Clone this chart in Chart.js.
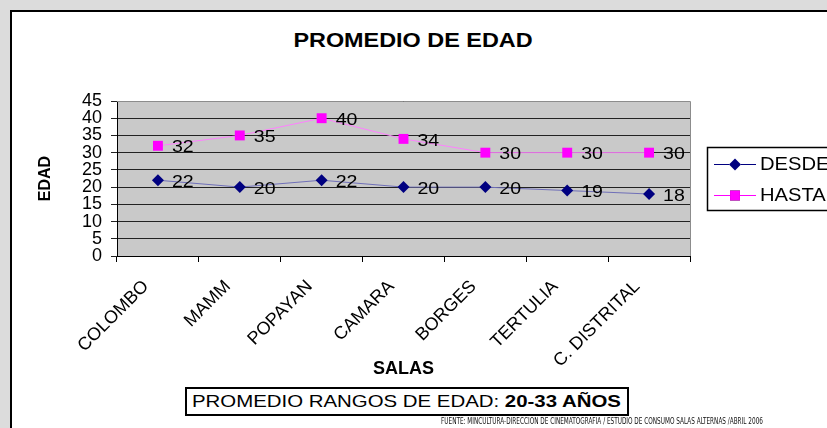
<!DOCTYPE html>
<html>
<head>
<meta charset="utf-8">
<script src="https://cdn.jsdelivr.net/npm/chart.js@4/dist/chart.umd.min.js"></script>
<style>
    html, body { margin: 0; padding: 0; }
    body { width: 827px; height: 428px; background: #dcdcdc; position: relative; overflow: hidden; font-family: "Liberation Sans", Arial, sans-serif; }
    #panel { position: absolute; left: 10px; top: 10px; width: 830px; height: 430px; background: #fff; border-left: 2px solid #000; border-top: 2px solid #000; }
    #chartBox { position: absolute; left: 0; top: 0; width: 827px; height: 428px; }
    #chartTitle { position: absolute; left: 413px; top: 29px; font-size: 19.5px; font-weight: bold; white-space: nowrap;
                  transform: translateX(-50%) scaleX(1.2); }
    #rangeBox { position: absolute; left: 185px; top: 387px; width: 440px; height: 25px; border: 2px solid #000; background: #fff; overflow: hidden; }
    #rangeBox span { position: absolute; left: 5px; top: 3px; font-size: 17px; white-space: nowrap; transform-origin: left top; transform: scaleX(1.2); }
    #source { position: absolute; left: 441px; top: 416px; font-family: "DejaVu Sans Condensed", "DejaVu Sans", sans-serif;
              font-stretch: condensed; font-size: 9px; color: #111; white-space: nowrap; transform-origin: left top; transform: scaleX(0.71); }
</style>
</head>
<body>
<div id="panel"></div>
<div id="chartTitle">PROMEDIO DE EDAD</div>
<div id="chartBox"><canvas id="edadChart" width="827" height="428"></canvas></div>
<div id="rangeBox"><span>PROMEDIO RANGOS DE EDAD: <b>20-33 AÑOS</b></span></div>
<div id="source">FUENTE: MINCULTURA-DIRECCION DE CINEMATOGRAFIA / ESTUDIO DE CONSUMO SALAS ALTERNAS /ABRIL 2006</div>

<script>
// ---- data ----
const salas = ["COLOMBO", "MAMM", "POPAYAN", "CAMARA", "BORGES", "TERTULIA", "C. DISTRITAL"];
const desde = [22, 20, 22, 20, 20, 19, 18];
const hasta = [32, 35, 40, 34, 30, 30, 30];
const seriesNames = ["DESDE", "HASTA"];

const FONT = "'Liberation Sans', Arial, sans-serif";

// grey plot area like the old spreadsheet chart
const plotBackground = {
    id: 'plotBackground',
    beforeDraw(chart) {
        const a = chart.chartArea, ctx = chart.ctx;
        ctx.save();
        ctx.fillStyle = '#c9c9c9';
        ctx.fillRect(a.left, a.top, a.right - a.left, a.bottom - a.top);
        ctx.restore();
    },
    afterDraw(chart) {
        const a = chart.chartArea, ctx = chart.ctx;
        ctx.save();
        ctx.strokeStyle = '#8c8c8c';
        ctx.lineWidth = 1;
        ctx.beginPath();
        ctx.moveTo(a.left, a.top + 0.5);
        ctx.lineTo(a.right + 0.5, a.top + 0.5);
        ctx.lineTo(a.right + 0.5, a.bottom);
        ctx.stroke();
        ctx.restore();
    }
};

// draw text a bit wider, the original picture is stretched sideways
function wideText(ctx, txt, x, y, sx) {
    ctx.save();
    ctx.translate(x, y);
    ctx.scale(sx, 1);
    ctx.fillText(txt, 0, 0);
    ctx.restore();
}

// value labels right of each point
const pointLabels = {
    id: 'pointLabels',
    afterDatasetsDraw(chart) {
        const ctx = chart.ctx;
        ctx.save();
        ctx.font = '17px ' + FONT;
        ctx.fillStyle = '#000';
        ctx.textAlign = 'left';
        ctx.textBaseline = 'middle';
        chart.data.datasets.forEach((ds, i) => {
            chart.getDatasetMeta(i).data.forEach((pt, j) => {
                wideText(ctx, String(ds.data[j]), pt.x + 14, pt.y + 2, 1.15);
            });
        });
        ctx.restore();
    }
};

// legend box on the right
const sideLegend = {
    id: 'sideLegend',
    afterDraw(chart) {
        const ctx = chart.ctx;
        const x = 707, y = 147, w = 160, h = 63;
        ctx.save();
        ctx.fillStyle = '#fff';
        ctx.fillRect(x, y, w, h);
        ctx.strokeStyle = '#000';
        ctx.lineWidth = 1.5;
        ctx.strokeRect(x + 0.5, y + 0.5, w, h);
        chart.data.datasets.forEach((ds, i) => {
            const cy = y + 17 + i * 31;
            ctx.strokeStyle = ds.pointBackgroundColor;
            ctx.lineWidth = 1;
            ctx.beginPath();
            ctx.moveTo(714, cy + 0.5);
            ctx.lineTo(756, cy + 0.5);
            ctx.stroke();
            Chart.helpers.drawPoint(ctx, {
                pointStyle: ds.pointStyle, radius: ds.pointRadius, rotation: 0, borderWidth: 0
            }, 735, cy + 0.5);
            ctx.fillStyle = ds.pointBackgroundColor;
            ctx.fill();
            ctx.fillStyle = '#000';
            ctx.font = '18px ' + FONT;
            ctx.textBaseline = 'middle';
            wideText(ctx, seriesNames[i], 760, cy + 1, 1.12);
        });
        ctx.restore();
    }
};

new Chart(document.getElementById('edadChart'), {
    type: 'line',
    data: {
        labels: salas,
        datasets: [{
            label: seriesNames[0],
            data: desde,
            borderColor: '#6f6fb8',
            borderWidth: 1,
            pointStyle: 'rectRot',
            pointRadius: 6,
            pointBackgroundColor: '#000080',
            pointBorderColor: '#000080',
            pointBorderWidth: 0,
            tension: 0
        }, {
            label: seriesNames[1],
            data: hasta,
            borderColor: '#ff80ff',
            borderWidth: 1,
            pointStyle: 'rect',
            pointRadius: 7,
            pointBackgroundColor: '#ff00ff',
            pointBorderColor: '#ff00ff',
            pointBorderWidth: 0,
            tension: 0
        }]
    },
    options: {
        responsive: false,
        animation: false,
        layout: { padding: { left: 36, right: 137, top: 101, bottom: 45 } },
        plugins: {
            legend: { display: false },
            tooltip: { enabled: false },
            title: { display: false }
        },
        scales: {
            x: {
                offset: true,
                grid: { offset: true, drawOnChartArea: false, color: '#000', tickLength: 6 },
                border: { color: '#000' },
                ticks: {
                    color: '#000', font: { family: FONT, size: 18 },
                    maxRotation: 45, minRotation: 45, autoSkip: false,
                    padding: 14, labelOffset: -12
                },
                title: {
                    display: true, text: 'SALAS', color: '#000',
                    font: { family: FONT, size: 18, weight: 'bold' }, padding: { top: 0, bottom: 3 }
                },
                afterFit(scale) { scale.height = 127; }
            },
            y: {
                min: 0, max: 45,
                grid: { color: '#222', tickLength: 6 },
                border: { color: '#000' },
                ticks: {
                    stepSize: 5, autoSkip: false, color: '#000', padding: 9,
                    font: { family: FONT, size: 18 }
                },
                title: {
                    display: true, text: 'EDAD', color: '#000',
                    font: { family: FONT, size: 16, weight: 'bold' }, padding: { top: 0, bottom: 4 }
                },
                afterFit(scale) { scale.width = 81; }
            }
        }
    },
    plugins: [plotBackground, pointLabels, sideLegend]
});
</script>
</body>
</html>
